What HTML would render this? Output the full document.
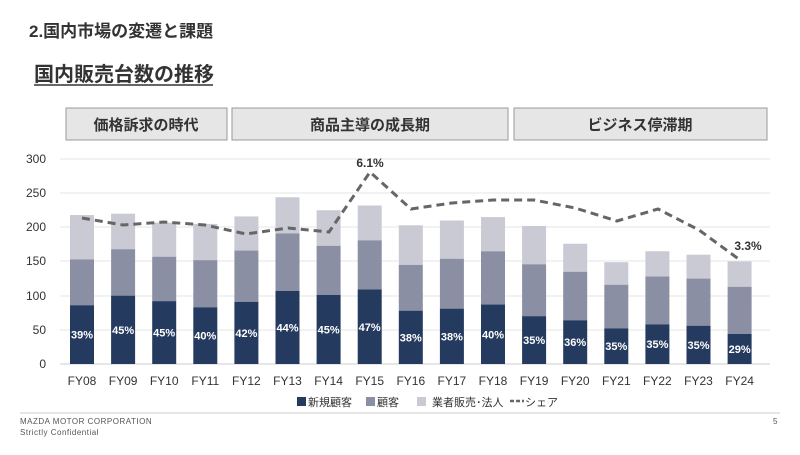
<!DOCTYPE html>
<html><head><meta charset="utf-8"><style>
body{margin:0;width:800px;height:450px;background:#fff;overflow:hidden;font-family:"Liberation Sans","Noto Sans CJK JP",sans-serif;}
</style></head><body>
<svg width="800" height="450" xmlns="http://www.w3.org/2000/svg" font-family="'Liberation Sans','Noto Sans CJK JP',sans-serif">
<text x="29" y="37" font-size="17" font-weight="bold" fill="#333">2.国内市場の変遷と課題</text>
<text x="34" y="81" font-size="20" font-weight="bold" fill="#333">国内販売台数の推移</text>
<line x1="34" y1="85" x2="213" y2="85" stroke="#333" stroke-width="1.5"/>
<g fill="#e6e6e6" stroke="#999">
<rect x="66" y="108" width="161" height="32"/><rect x="232" y="108" width="276" height="32"/><rect x="514" y="108" width="253" height="32"/></g>
<g font-size="15" font-weight="bold" fill="#333" text-anchor="middle">
<text x="146" y="130">価格訴求の時代</text><text x="370" y="130">商品主導の成長期</text><text x="640" y="130">ビジネス停滞期</text></g>
<g stroke="#e6e6e6"><line x1="60" y1="159" x2="770" y2="159"/><line x1="60" y1="193" x2="770" y2="193"/><line x1="60" y1="227" x2="770" y2="227"/><line x1="60" y1="261" x2="770" y2="261"/><line x1="60" y1="296" x2="770" y2="296"/><line x1="60" y1="330" x2="770" y2="330"/></g>
<line x1="60" y1="364" x2="770" y2="364" stroke="#ccc"/>
<g font-size="12" fill="#333" text-anchor="end"><text x="46" y="163">300</text><text x="46" y="197">250</text><text x="46" y="231">200</text><text x="46" y="265">150</text><text x="46" y="300">100</text><text x="46" y="334">50</text><text x="46" y="368">0</text></g>
<g id="bars"></g>
<polyline fill="none" stroke="#666" stroke-width="3" stroke-dasharray="8,5" points="82,218 123,225 164,222 205,225 246,234 288,228 329,232 370,172 411,209 452,203 493,200 534,200 575,208 617,221 658,209 699,230 740,260"/>
<g font-size="12" font-weight="bold" fill="#333" text-anchor="middle"><text x="370" y="167">6.1%</text><text x="748" y="250">3.3%</text></g>
<g font-size="12" fill="#333" text-anchor="middle" id="xl"></g>
<rect x="297" y="397" width="9" height="9" fill="#243a5e"/><text x="308" y="406" font-size="11" fill="#333">新規顧客</text>
<rect x="366" y="397" width="9" height="9" fill="#8a8fa3"/><text x="377" y="406" font-size="11" fill="#333">顧客</text>
<rect x="417" y="397" width="9" height="9" fill="#c9cad3"/><text x="432" y="406" font-size="11" fill="#333">業者販売･法人</text>
<line x1="510" y1="401" x2="524" y2="401" stroke="#666" stroke-width="2.5" stroke-dasharray="4,2"/><text x="525" y="406" font-size="11" fill="#333">シェア</text>
<line x1="20" y1="413" x2="780" y2="413" stroke="#ccc"/>
<text x="20" y="424" font-size="8" fill="#555" letter-spacing="0.5">MAZDA MOTOR CORPORATION</text>
<text x="20" y="435" font-size="8" fill="#555" letter-spacing="0.5">Strictly Confidential</text>
<text x="773" y="424" font-size="8" fill="#555">5</text>
</svg>
<script>
var d=[[86,153,218,"39%"],[100,168,220,"45%"],[92,157,207,"45%"],[83,152,205,"40%"],[91,166,216,"42%"],[107,191,244,"44%"],[101,173,225,"45%"],[109,181,232,"47%"],[78,145,203,"38%"],[81,154,210,"38%"],[87,165,215,"40%"],[70,146,202,"35%"],[64,135,176,"36%"],[52,116,149,"35%"],[58,128,165,"35%"],[56,125,160,"35%"],[44,113,150,"29%"]];
var ns="http://www.w3.org/2000/svg",g=document.getElementById("bars"),xl=document.getElementById("xl");
function el(t,a,p){var e=document.createElementNS(ns,t);for(var k in a)e.setAttribute(k,a[k]);p.appendChild(e);return e;}
var s=0.6833;
d.forEach(function(v,i){var cx=82+i*41.1,x=cx-12;
el("rect",{x:x,y:364-v[2]*s,width:24,height:(v[2]-v[1])*s,fill:"#c9cad3"},g);
el("rect",{x:x,y:364-v[1]*s,width:24,height:(v[1]-v[0])*s,fill:"#8a8fa3"},g);
el("rect",{x:x,y:364-v[0]*s,width:24,height:v[0]*s,fill:"#243a5e"},g);
var t=el("text",{x:cx,y:364-v[0]*s/2+4,"font-size":"11","font-weight":"bold",fill:"#fff","text-anchor":"middle"},g);t.textContent=v[3];
var l=el("text",{x:cx,y:385},xl);l.textContent="FY"+("0"+(8+i)).slice(-2);});
</script>
</body></html>
